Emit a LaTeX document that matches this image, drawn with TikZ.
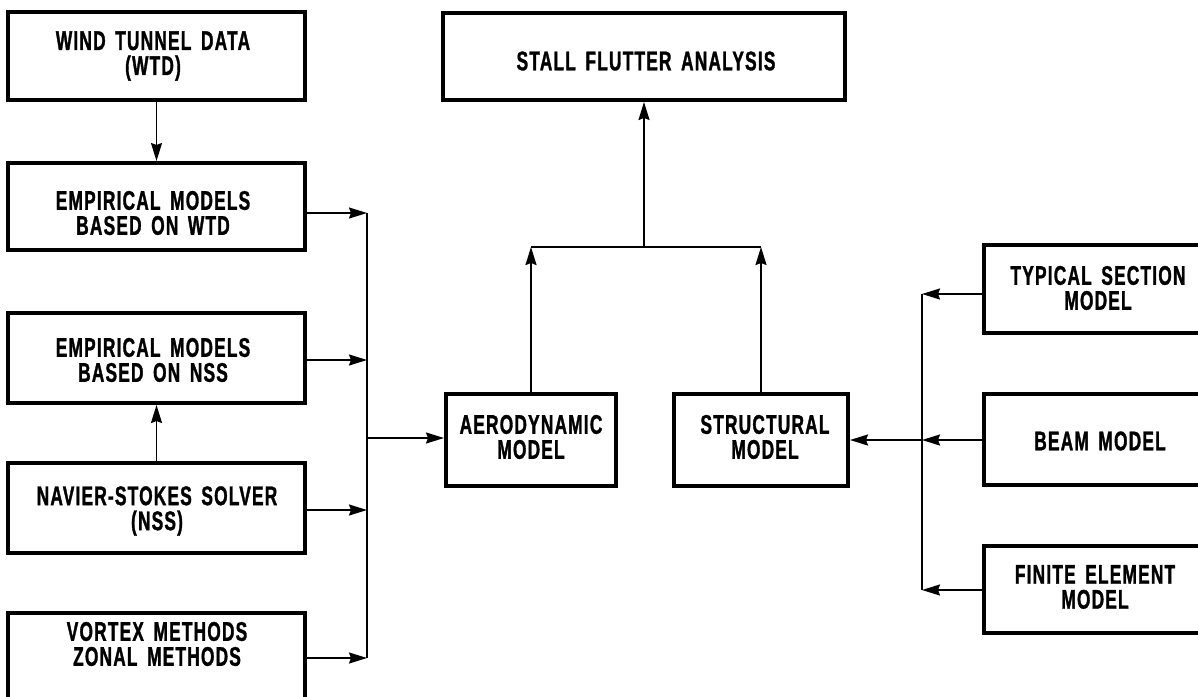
\documentclass[tikz,border=0pt]{standalone}
\usepackage{fontspec}
\setmainfont{Liberation Sans}[FakeStretch=0.64,LetterSpace=4.5,WordSpace=1.6,FakeBold=1.2]
\usetikzlibrary{arrows.meta}
\begin{document}
\begin{tikzpicture}[x=1pt,y=-1pt,
  box/.style={draw, line width=4pt, rectangle, inner sep=0pt},
  lbl/.style={font=\bfseries\fontsize{27}{25}\selectfont, align=center, inner sep=0pt},
  conn/.style={line width=1.8pt},
  arr/.style={conn, -{Stealth[length=18pt,width=11pt,inset=2pt]}}]
\useasboundingbox (0,0) rectangle (1198,696);
\clip (0,0) rectangle (1198,696);
% left column
\node[box, minimum width=297pt, minimum height=88pt] (wtd) at (156.5,56) {};
\node[lbl] (wtdt) at (153,56) {WIND TUNNEL DATA\\(WTD)};
\node[box, minimum width=297pt, minimum height=87pt] (ewtd) at (156.5,206.5) {};
\node[lbl] (ewtdt) at (153,213) {EMPIRICAL MODELS\\BASED ON WTD};
\node[box, minimum width=297pt, minimum height=90pt] (enss) at (156.5,358) {};
\node[lbl] (ensst) at (153,360) {EMPIRICAL MODELS\\BASED ON NSS};
\node[box, minimum width=297pt, minimum height=90pt] (nss) at (156.5,508) {};
\node[lbl] (nsst) at (157,511) {NAVIER-STOKES SOLVER\\(NSS)};
\node[box, minimum width=297pt, minimum height=107pt] (vortex) at (156.5,666.5) {};
\node[lbl] (vortext) at (157,644) {VORTEX METHODS\\ZONAL METHODS};
% centre
\node[box, minimum width=402pt, minimum height=87pt] (stall) at (644,56.5) {};
\node[lbl] (stallt) at (646,61) {STALL FLUTTER ANALYSIS};
\node[box, minimum width=170pt, minimum height=92pt] (aero) at (531,440) {};
\node[lbl] (aerot) at (531,437) {AERODYNAMIC\\MODEL};
\node[box, minimum width=174pt, minimum height=92pt] (struct) at (761,440) {};
\node[lbl] (structt) at (765,437) {STRUCTURAL\\MODEL};
% right column
\node[box, minimum width=228pt, minimum height=88pt] (typ) at (1098,289) {};
\node[lbl] (typt) at (1098,288) {TYPICAL SECTION\\MODEL};
\node[box, minimum width=228pt, minimum height=91pt] (beam) at (1098,439.5) {};
\node[lbl] (beamt) at (1100,441) {BEAM MODEL};
\node[box, minimum width=228pt, minimum height=87pt] (fem) at (1098,589.5) {};
\node[lbl] (femt) at (1095,587) {FINITE ELEMENT\\MODEL};
% bus coordinates
\coordinate (lb1) at (367,213);
\coordinate (lb2) at (367,360);
\coordinate (lb3) at (367,510);
\coordinate (lb4) at (367,658);
\coordinate (lbm) at (367,438);
\coordinate (ub) at (645,247);
\coordinate (rb1) at (922,294);
\coordinate (rb2) at (922,440);
\coordinate (rb3) at (922,590);
% connectors left
\draw[arr] (wtd.south) -- (ewtd.north);
\draw[arr] (nss.north) -- (enss.south);
\draw[arr] (ewtd.east |- lb1) -- (lb1);
\draw[arr] (enss.east |- lb2) -- (lb2);
\draw[arr] (nss.east |- lb3) -- (lb3);
\draw[arr] (vortex.east |- lb4) -- (lb4);
\draw[conn] (lb1) -- (lb4);
\draw[arr] (lbm) -- (aero.west |- lbm);
% connectors centre
\draw[arr] (aero.north) -- (aero.north |- ub);
\draw[arr] (struct.north) -- (struct.north |- ub);
\draw[conn] (aero.north |- ub) -- (struct.north |- ub);
\draw[arr] (stall.south |- ub) -- (stall.south);
% connectors right
\draw[arr] (typ.west |- rb1) -- (rb1);
\draw[arr] (beam.west |- rb2) -- (rb2);
\draw[arr] (fem.west |- rb3) -- (rb3);
\draw[conn] (rb1) -- (rb3);
\draw[arr] (rb2) -- (struct.east |- rb2);
\end{tikzpicture}
\end{document}
